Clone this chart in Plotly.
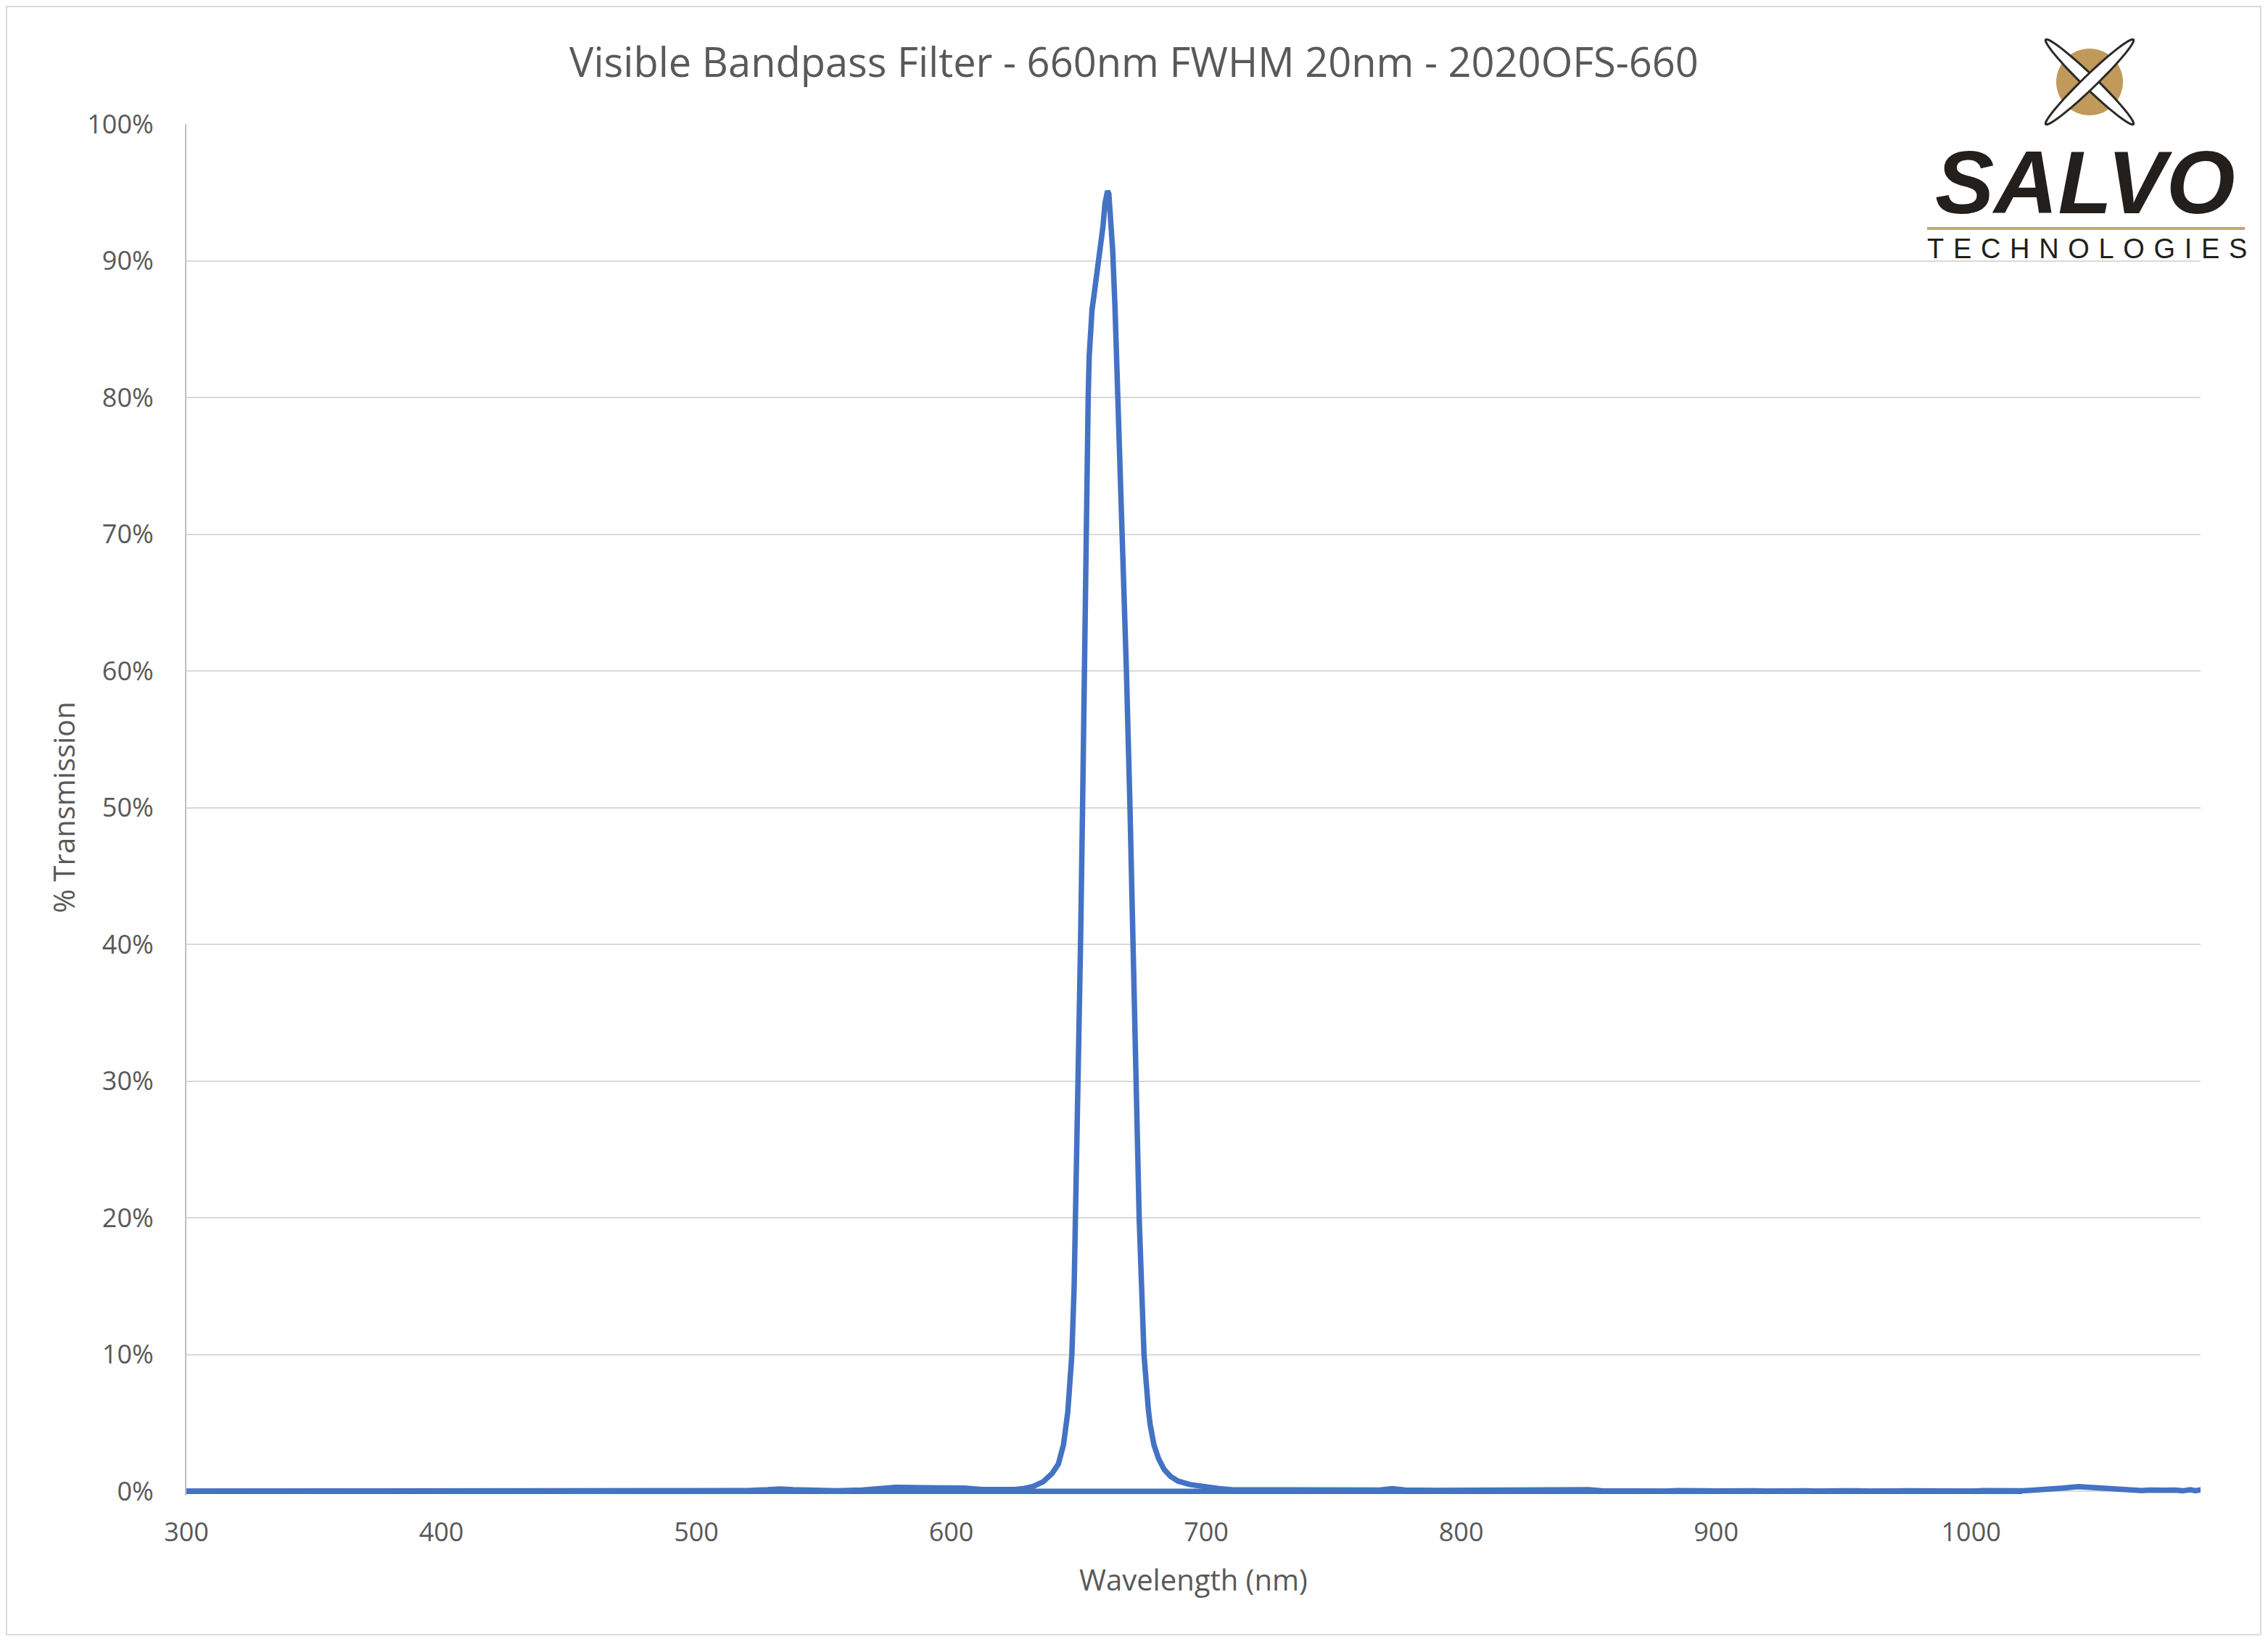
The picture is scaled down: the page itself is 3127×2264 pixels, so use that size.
"""Krzywa transmisji filtra pasmowego 660 nm (Salvo 2020OFS-660)."""

import math

import plotly.graph_objects as go

# --- dane ---------------------------------------------------------------
wavelength_nm = [
    300, 350, 400, 450, 480, 500, 510, 520, 528, 533, 538, 545, 555, 565,
    572, 578, 585, 592, 598, 605, 612, 620, 625, 628, 632, 636, 639.5, 642,
    644, 645.7, 646.8, 647.3, 648.2, 648.8, 649.8, 650.7, 651.5, 652.1,
    653.0, 653.7, 654.1, 654.6, 655.2, 656.0, 657.5, 659.5, 660.3, 660.8,
    661.3, 661.8, 662.2, 662.6, 663.3, 664.2, 665.4, 667.0, 668.7, 670.1,
    671.3, 672.4, 673.7, 675.6, 676.5, 677.3, 678.0, 679.5, 681.3, 683.5,
    686, 689, 693.6, 698, 705, 710, 720, 740, 760, 768, 773, 778, 790,
    810, 818, 825, 840, 850, 855, 860, 865, 870, 875, 880, 885, 890, 895,
    900, 905, 910, 915, 920, 925, 930, 935, 940, 945, 950, 955, 960, 965,
    970, 975, 980, 985, 990, 995, 1000, 1005, 1010, 1015, 1020, 1025, 1030,
    1036, 1042, 1048, 1054, 1058, 1061, 1064, 1067, 1070, 1073, 1076, 1080,
    1083, 1086, 1088, 1091,
]
transmission_pct = [
    0.02, 0.02, 0.02, 0.03, 0.03, 0.05, 0.05, 0.06, 0.12, 0.18, 0.12, 0.06,
    0.05, 0.10, 0.22, 0.30, 0.28, 0.29, 0.32, 0.25, 0.14, 0.12, 0.14, 0.2,
    0.35, 0.7, 1.3, 2.0, 3.4, 5.8, 8.3, 10, 15, 20, 30, 40, 50, 60, 70, 80,
    83, 85.2, 86.4, 87.5, 89.5, 92.5, 94.2, 94.9, 95.1, 94.9, 94.0, 93.0,
    90.8, 86.7, 80, 70, 60, 50, 40, 30, 20, 10, 7.5, 6.0, 4.9, 3.4, 2.4,
    1.6, 1.1, 0.75, 0.5, 0.35, 0.2, 0.12, 0.1, 0.08, 0.07,
    0.1, 0.2, 0.1, 0.07, 0.08, 0.13, 0.09, 0.08, 0.12, 0.04, 0.02, 0.06,
    0.01, 0.05, 0.02, 0.06, 0.01, 0.05, 0.03, 0.06, 0.02, 0.05, 0.02, 0.06,
    0.03, 0.05, 0.02, 0.06, 0.03, 0.05, 0.02, 0.06, 0.03, 0.04, 0.02, 0.06,
    0.03, 0.05, 0.02, 0.06, 0.03, 0.05, 0.04, 0.10, 0.14, 0.24, 0.35, 0.28,
    0.25, 0.15, 0.08, 0.12, 0.06, 0.10, 0.05, 0.09, 0.10, 0.04, 0.12, 0.05,
    0.14,
]
zero_nm = [300, 1020]
zero_pct = [0, 0]

y_ticks = list(range(0, 101, 10))
y_labels = [f"{v}%" for v in y_ticks]
x_ticks = list(range(300, 1001, 100))

TYTUL = "Visible Bandpass Filter - 660nm FWHM 20nm - 2020OFS-660"
NIEBIESKI = "#4472C4"
SZARY_TEKST = "#595959"
FONT = "Open Sans"

# okno 3127x2264, strona ma 8 px marginesu body
W, H, OFF = 3127, 2264, 8
FW, FH = W - 2 * OFF, H - 2 * OFF
PL, PR, PT, PB = 257, 3034, 171, 2062.2   # ramka obszaru wykresu (px strony)
M_L, M_T = PL - OFF, PT - OFF
M_R = FW - (PR - OFF)
M_B = FH - (PB - OFF)
PW, PH = PR - PL, PB - PT


def px_x(x):
    return (x - PL) / PW


def px_y(y):
    return (PB - y) / PH


fig = go.Figure()
fig.add_trace(go.Scatter(x=zero_nm, y=zero_pct, mode="lines",
                         line=dict(color=NIEBIESKI, width=7.5), hoverinfo="skip"))
fig.add_trace(go.Scatter(x=wavelength_nm, y=transmission_pct, mode="lines",
                         line=dict(color=NIEBIESKI, width=7.5)))

fig.update_layout(
    width=FW, height=FH, showlegend=False,
    paper_bgcolor="white", plot_bgcolor="white",
    margin=dict(l=M_L, r=M_R, t=M_T, b=M_B, autoexpand=False),
    font=dict(family=FONT, color=SZARY_TEKST, size=36),
    title=dict(text=TYTUL, x=0.5, xref="container", xanchor="center",
               y=1 - (86 - OFF) / FH, yanchor="middle",
               font=dict(size=56, color=SZARY_TEKST, family=FONT)),
)
fig.update_xaxes(range=[300, 1090], tickvals=x_ticks, showgrid=False,
                 zeroline=False, showline=False, ticks="",
                 ticklabelstandoff=26, tickfont=dict(size=36))
fig.update_yaxes(range=[-0.3, 100], tickvals=y_ticks, ticktext=y_labels,
                 showgrid=True, gridcolor="#D9D9D9", gridwidth=2,
                 zeroline=True, zerolinecolor="#D9D9D9", zerolinewidth=2,
                 showline=True, linecolor="#BFBFBF", linewidth=2, ticks="",
                 ticklabelstandoff=36, tickfont=dict(size=36))

# tytuły osi
fig.add_annotation(text="Wavelength (nm)", x=0.5, y=px_y(2178), xref="paper",
                   yref="paper", showarrow=False, yanchor="middle",
                   font=dict(size=40))
fig.add_annotation(text="% Transmission", x=px_x(88), y=px_y(1113),
                   xref="paper", yref="paper", showarrow=False,
                   textangle=-90, xanchor="center", yanchor="middle",
                   font=dict(size=40))

# ramka wykresu
fig.add_shape(type="rect", xref="paper", yref="paper",
              x0=px_x(OFF + 1), x1=px_x(W - OFF - 2),
              y0=px_y(H - OFF - 2), y1=px_y(OFF + 1),
              line=dict(color="#D9D9D9", width=2), layer="below")

# logo Salvo Technologies
cx, cy, r = 2881, 113, 46
fig.add_shape(type="circle", xref="paper", yref="paper",
              x0=px_x(cx - r), x1=px_x(cx + r), y0=px_y(cy + r), y1=px_y(cy - r),
              fillcolor="#C19A5B", line=dict(width=0))


def elipsa(kat):
    a, b = 84, 9
    pkt = []
    for i in range(49):
        t = 2 * math.pi * i / 48
        ex, ey = a * math.cos(t), b * math.sin(t)
        x = cx + ex * math.cos(kat) - ey * math.sin(kat)
        y = cy + ex * math.sin(kat) + ey * math.cos(kat)
        pkt.append(f"{px_x(x):.5f},{px_y(y):.5f}")
    return "M" + " L".join(pkt) + " Z"


for kat in (math.radians(44), math.radians(-44)):
    fig.add_shape(type="path", xref="paper", yref="paper", path=elipsa(kat),
                  fillcolor="white", line=dict(color="#2B2A26", width=3))

fig.add_annotation(text="<b><i>SALVO</i></b>", x=px_x(2875), y=px_y(252),
                   xref="paper", yref="paper", showarrow=False,
                   xanchor="center", yanchor="middle",
                   font=dict(family="Liberation Sans", size=122, color="#231F1C"))
fig.add_shape(type="line", xref="paper", yref="paper",
              x0=px_x(2657), x1=px_x(3095), y0=px_y(315), y1=px_y(315),
              line=dict(color="#C8A765", width=4))
fig.add_annotation(text="\u2004".join("TECHNOLOGIES"), x=px_x(2877),
                   y=px_y(343), xref="paper", yref="paper", showarrow=False,
                   xanchor="center", yanchor="middle",
                   font=dict(family="Liberation Sans", size=38, color="#231F1C"))

fig.write_html("out.html")
